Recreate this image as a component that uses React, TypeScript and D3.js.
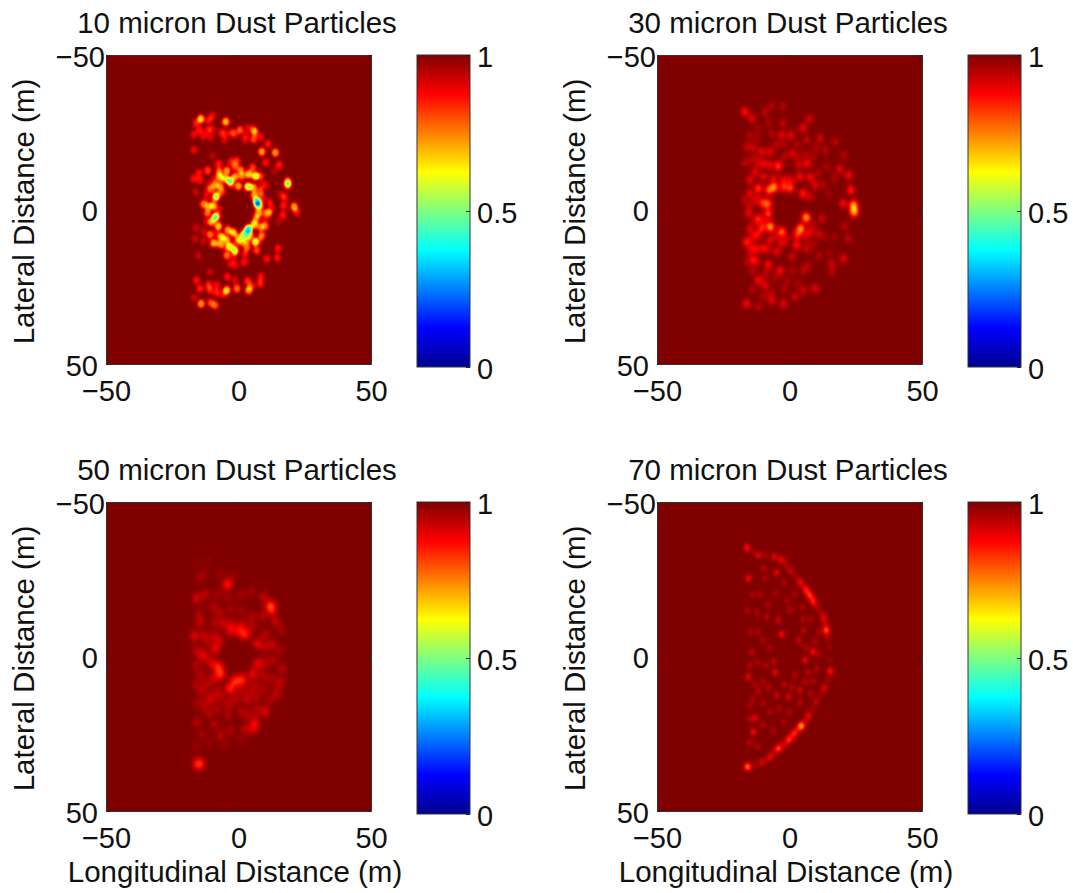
import { useEffect, useRef } from "react";
import * as d3 from "d3";

type Speckle = [number, number, number];

// Speckles: longitudinal (m), lateral (m), drop below 1
const speckles10: Speckle[] = [
  [-14.2,-29.3,.35],[-16,-27.9,.15],[-11.2,-28.9,.15],[-9.8,-30.3,.12],[-4.8,-28.4,.33],[-16.8,-24.3,.12],[-14.7,-25.7,.15],[-13.2,-23.8,.12],
  [-11.7,-25.7,.12],[-10.1,-25.9,.12],[-10.5,-23.3,.1],[-6.6,-24.9,.12],[-5,-24.5,.12],[-5.3,-22.5,.1],[-2.5,-24.9,.15],[-1.3,-24.3,.12],
  [.6,-25.7,.22],[3.8,-26.5,.1],[5.7,-25.7,.2],[6.3,-24.9,.18],[2.8,-24.2,.1],[2.5,-22.5,.1],[5.7,-22.7,.2],[8.4,-23.4,.12],[11.2,-21.2,.15],
  [-16.8,-19.3,.12],[8.8,-18.7,.3],[13.9,-18.4,.3],[-9.8,-17.4,.06],[10.3,-15.2,.14],[15.4,-14.4,.15],[13.6,-12.6,.06],
  [-2.8,-15.4,.15],[-.6,-15.7,.18],[-6.9,-14.7,.1],[-8.2,-14.7,.08],[-1.3,-13.8,.2],[-11.6,-12.6,.2],[-7.3,-12.2,.25],[-4.4,-12.5,.3],
  [.9,-12.7,.25],[5.4,-13.5,.2],[-14.9,-11.9,.14],[-16.8,-10,.14],[-14.5,-9.5,.14],[-6.9,-10.4,.3],[-3.2,-9.2,.45],[-5,-10,.3],[-1.3,-10.6,.3],
  [1.3,-10.8,.25],[3.8,-11.4,.35],[6.3,-10.8,.4],[8.2,-10.8,.2],[-16.1,-5.5,.08],[-8.8,-7.9,.25],[-10.3,-6.5,.2],[-6.9,-7.6,.25],[0,-7.6,.3],
  [3.6,-7.4,.45],[5.7,-7.1,.3],[8.2,-5.9,.2],[10.5,-7.7,.08],[18.6,-9,.3],[18.6,-7.9,.3],[-2.5,-8,.12],[-8.2,-4.6,.3],[-8.8,-3.6,.25],
  [-6.3,-5.8,.2],[8.8,-4.1,.15],[6.9,-2.5,.6],[7.4,-1,.3],[6,-4.6,.3],[-13.2,-1.7,.25],[-11.3,-1.1,.25],[-9.5,-1.1,.3],[8.4,-1.7,.2],
  [11.7,-2.3,.14],[-7.6,-.3,.1],[17.4,-3.9,.15],[16.1,-4.9,.08],[17,-1.2,.15],[21,-.9,.3],[22,.8,.14],[12.6,-.3,.1],[11.3,1.1,.3],[9.2,.8,.15],
  [7.4,1.3,.25],[-11.7,1.1,.25],[-8.8,2.5,.45],[-7.7,1.8,.15],[16.8,1.8,.15],[15.1,3.8,.06],[6.7,3,.25],[5.8,4.9,.35],[-10.1,4,.3],[-7.6,5.4,.35],
  [-4,6.7,.3],[-1.9,7.5,.35],[3.7,6.4,.65],[2.1,8,.45],[8.2,5.6,.25],[10.1,5.4,.25],[-16,5.9,.08],[-13.2,7.2,.08],[-16.4,9.4,.08],
  [-13.2,10.2,.08],[-10.7,8.1,.25],[-6.3,8.9,.35],[-4.4,9.8,.3],[0,9.2,.3],[3.2,9.8,.25],[6.3,10.5,.4],[4.4,8.3,.3],[8.8,8.3,.25],
  [-9.1,10.8,.25],[-6.9,11.2,.28],[-3.2,12.1,.4],[-1.3,13.4,.4],[1.3,10.5,.28],[3.2,12.1,.25],[6.9,13.2,.2],[14.9,12.6,.14],[14.7,15.6,.14],
  [10.7,16,.14],[-15.1,15,.08],[-4.4,14.8,.25],[-1.9,15.3,.1],[2.5,14.3,.15],[2.1,17,.14],[-3.2,17.5,.1],[-1.3,17.8,.12],
  [-10.7,20.2,.08],[-4.2,21.8,.14],[-1.3,22.9,.1],[8.4,21.8,.14],[8.2,24,.16],[-15.8,22.9,.14],[-11.3,24.3,.15],[-14.5,25.6,.16],[-8.2,24.5,.13],
  [-10.7,26.1,.16],[-8.2,26.9,.16],[-4.4,26.1,.35],[-5.7,27.4,.14],[-.6,25.6,.25],[3.4,23.2,.18],[3.8,26.1,.3],[5,24.8,.16],[-16.8,28.5,.08],
  [-14.1,30.5,.3],[-10.5,30.2,.2],[-8.8,31,.22],
  [-11,-8,.1],[-12,-4,.1],[-9,-10,.12],[-12,4,.1],[-8,8,.12],[-10,11,.1],[-1,11,.14],[9,-8,.1],[10,3,.12],[8,10,.12],[-5,12,.14],[-12,-6,.08],
];

const speckles30: Speckle[] = [
  [-7.8,-6.3,.2],[-5.8,-7.2,.25],[-2.3,-7.2,.15],[.3,-7,.18],[-8,-1.9,.18],[-8,1.3,.18],[-7.2,5.6,.28],[-2.9,7.2,.22],[4.2,6.2,.28],
  [6.3,2.6,.3],[2.8,8.3,.15],[5,-5.2,.15],[24.2,-1.4,.28],[24.4,.8,.3],[23.2,-6.3,.15],[22.3,-11.1,.12],[18.9,-13.1,.1],[20.2,-1.9,.12],
  [20.4,-17.6,.06],[17.3,-21.9,.06],[11.6,-23,.08],[13.5,-19.2,.06],[21,5.4,.06],[22.3,9.4,.07],[20.4,15.9,.1],[16,17.5,.08],[16,20.2,.06],
  [9.7,25.6,.1],[-16.8,-31.6,.14],[-14.2,-29.5,.1],[-9.2,-31.6,.06],[-6.7,-33.5,.05],[-2.5,-33.3,.05],[-2.5,-28.1,.07],[7.6,-29.5,.08],
  [4.7,-26.2,.08],[-6.7,-24.6,.05],[-2.9,-24.1,.1],[.6,-24.1,.1],[6.6,-22.5,.07],[-16.1,-20.3,.07],[-13.6,-20.1,.07],[-7.3,-18.7,.1],
  [-10.5,-18.7,.1],[.9,-18.1,.08],[-4.2,-14.1,.18],[-9.8,-14.9,.1],[-7.3,-14.4,.1],[6.6,-14.9,.12],[3.4,-14.4,.08],[-13,-12.2,.1],[-6,-10,.1],
  [-2.3,-9.6,.1],[.3,-9.6,.1],[-9.8,-10.6,.1],[4,-10.6,.12],[7.8,-10.4,.12],[-14.9,-9.5,.1],[-11.7,-6.8,.18],[-14.9,-5.2,.1],[9.7,-7.9,.1],
  [7.8,-4.1,.08],[-13,-3,.08],[-9.8,-1.9,.15],[-16.8,-3,.06],[-15.5,1.3,.1],[-11.7,2.9,.14],[-14.9,6.2,.1],[-10.5,6.2,.16],[-16.1,10.5,.15],
  [-12.3,8.3,.12],[-7.3,9.9,.1],[-2.9,11,.1],[2.8,11.6,.14],[-9.8,12.6,.1],[-12.3,12.6,.1],[-13.6,16.4,.13],[-7.9,18,.13],[-3.5,19.7,.12],
  [.9,15.3,.08],[6.6,12.6,.08],[11,7.8,.07],[12.2,2.9,.08],[7.8,7.2,.1],[-11.7,22.9,.12],[-9.2,24.5,.1],[-16.1,30.5,.12],[-6.7,29.4,.1],
  [-2.3,30.5,.1],[2.1,28.3,.08],[-11.7,31.5,.06],[5.3,26.1,.08],[-1,23.4,.05],[5.3,19.7,.06],[-4.8,13.7,.1],[-14.2,12.6,.08],
  [-15,-24,.05],[-12,-26,.04],[-8,-28,.05],[-5,-21,.06],[-2,-17,.06],[3,-21,.05],[9,-17,.05],[11,-12,.05],[14,-14,.05],[17,-10,.05],[15,-5,.04],
  [13,-8,.05],[-17,-15,.05],[-15,-16,.05],[-12,-15,.06],[-11,-3,.06],[-15,-1,.06],[-13,4,.06],[-9.5,4,.07],[-14,9,.06],[-8,13,.06],[-5,8.5,.07],[-1,9.5,.07],
  [6,9,.07],[9,5,.05],[9,11,.05],[13,9,.04],[17,9,.04],[15,14,.04],[11,15,.05],[7,18,.05],[1,20,.05],[-5,22,.05],[-9,21,.06],[-14,20,.06],[-16,17,.05],
  [-14,26,.05],[-7,27,.05],[-2,26,.05],[3,24,.04],[-12,17,.05],[-10,28,.05],[-13,-17,.04],[6,-18,.05],[3,-17,.05],[10,-20,.05],[-2,-21,.05],[6,-27,.04],
  [-12,-23,.04],[-15,14,.05],
];

const speckles50: Speckle[] = [
  [-4.2,-23.3,.14],[12,-16.4,.16],[12.6,-15,.1],[9.5,-19.3,.06],[13.9,-11.4,.07],[2.5,-7.2,.15],[0,-8.2,.1],[-3.2,-8.2,.08],[-5.7,-10.7,.07],
  [-2.5,-10.2,.07],[1.3,-10.2,.07],[-16.6,-6.7,.09],[-13.9,-.4,.08],[-8.8,-2.4,.1],[-7.4,-5.2,.08],[7.2,-4.2,.09],[12.6,-3.7,.07],[10.1,-7.1,.06],
  [7.2,2.3,.1],[-7.6,3.3,.14],[-6.8,5.7,.16],[-1.3,8,.15],[1.3,7.6,.15],[5.3,5.6,.1],[-3.2,10.4,.15],[-10.1,2.3,.08],[-9.5,7.1,.07],[-13.9,11.4,.06],
  [-10.5,13.6,.09],[-15.8,-18.8,.08],[-12.6,-20.1,.06],[-14.5,-11.2,.07],[-9.5,-16.1,.05],[16.4,3.9,.06],[14.5,12,.06],[10.1,17.9,.09],[6.3,21.2,.09],
  [5.7,23.3,.09],[2.5,23.5,.06],[-6.9,25.5,.06],[-11.3,18.5,.05],[-15.8,21.2,.05],[-14.5,34.7,.14],[-15.8,34.9,.08],[9.5,10.4,.05],[3.2,14.1,.06],
  [-3.8,15.2,.06],[-6.9,13.1,.05],[-13.2,-26.4,.03],[-11.3,-30.7,.02],[3.8,19,.05],[16.4,-8.5,.04],[4.4,11.4,.05],[-9.5,-6.9,.05],[-12,-4.8,.05],
  [-15,-14,.04],[-13,-7,.05],[-16,-2,.05],[-12,0,.05],[-16,3,.05],[-14,6,.05],[-16,9,.05],[-12,9,.05],[-8,11,.05],[-9,-11,.05],[-7,-14,.05],[-3,-15,.04],
  [1,-15,.04],[5,-13,.05],[9,-13,.05],[5,-9.5,.05],[9.5,-3,.05],[10,2,.05],[13,1,.05],[9,6,.05],[12,7,.05],[16,8,.04],[6,9,.05],[1,11,.05],[-1,14,.05],[7,13,.05],
  [12,14,.05],[7,17,.05],[1,18,.05],[-4,19,.05],[-8,17,.05],[-13,16,.05],[-16,15,.04],[-14,25,.04],[-9,22,.05],[-3,24,.05],[-11,28,.03],[-5,29,.03],[1,27,.03],
  [-16,29,.03],[-8,-20,.04],[-4,-19,.04],[1,-20,.04],[5,-21,.04],[-2,-26,.03],[-7,-27,.03],[-15,-25,.03],[-16,-30,.02],[16,-2,.04],[15,9,.04],
];

const speckles70: Speckle[] = [
  [-16.1,-35.2,.13],[-11.7,-32.8,.1],[-6,-32.3,.08],[-2.9,-31.2,.1],[.3,-28,.08],[4,-24.2,.1],[6.3,-21.5,.16],[7.6,-19.9,.16],[9.1,-17.7,.14],
  [12.9,-12.3,.1],[13.9,-8.5,.22],[8.8,-1.5,.12],[5.9,1.2,.1],[15.4,4.8,.14],[13.1,10.2,.1],[10.1,14.7,.07],[7.2,19,.11],[4.4,22.5,.3],[1.8,24.9,.14],
  [-.4,27.1,.16],[-4.2,29.8,.2],[-7.3,32.5,.1],[-10.5,34.3,.08],[-15.8,35.7,.25],[-13.6,24.4,.12],[-13,19.9,.1],[-15.5,6.6,.1],[-15.5,-25.3,.12],
  [-4.8,-27.1,.1],[-9.8,-28.5,.06],[-9.2,-25.3,.05],[-2.9,-7.2,.12],[3.4,-5.3,.08],[-5.4,5.2,.1],[-6,1.7,.06],[-7.3,-2.6,.05],[-14.2,-1.5,.07],
  [-4.2,-11.8,.08],[-8.6,-12.9,.06],[5.3,-8.5,.06],[.3,-15,.06],[-5.4,-20.4,.05],[-12.3,-14.5,.05],[-14.9,-8,.05],[-11.7,11.4,.06],[-4.8,12.5,.08],
  [-.4,13.1,.09],[4,10.9,.08],[5.9,8.2,.06],[2.1,6,.06],[-13.6,13.6,.05],[-7.3,17.9,.05],[-2.3,21.2,.05],[-14.9,20.1,.05],[10.3,3.9,.05],[9.7,-4.8,.05],
  [-14,-34,.03],[-9,-32.8,.04],[-4.5,-32,.04],[-1.3,-30,.04],[2.2,-26,.04],[5,-23,.05],[8.4,-18.8,.06],[10.5,-16,.05],[12,-14,.05],[13.5,-10.5,.05],[14.3,-6,.05],
  [15,-3,.03],[15.3,1,.03],[14.5,7.5,.04],[11.7,12.5,.04],[8.8,17,.04],[6,20.8,.06],[3,23.7,.08],[.7,26,.08],[-2.3,28.5,.07],[-6,31.2,.05],[-9,33.5,.04],[-13,35.2,.04],
  [-14,-20,.05],[-16,-15,.05],[-11,-20,.05],[-8,-17,.05],[-2,-24,.05],[2,-20,.05],[-1,-18,.05],[5,-16,.05],[8,-12,.05],[5,-12,.05],[-12,-8,.05],[-10,-5,.05],
  [-15,3,.06],[-12,2,.05],[-9,3,.05],[-10,8,.05],[-13,9,.05],[-8,10,.06],[-2,9,.06],[1,10,.06],[7,5,.06],[9,8,.05],[8,12,.05],[4,15,.06],[0,18,.05],[-4,17,.05],
  [-10,15,.05],[-15,16,.05],[-10,22,.05],[-6,24,.05],[-15,28,.06],[-12,29,.05],[6,-3,.05],[11,-8,.05],[11,-1,.05],
];

const panelTitles = ["10 micron Dust Particles", "30 micron Dust Particles", "50 micron Dust Particles", "70 micron Dust Particles"];
const panelSpeckles = [speckles10, speckles30, speckles50, speckles70];
const speckleRadius = [1.4, 1.6, 1.9, 1.3]; // size of one speckle, in m
const speckleEdge = [3, 2, 2, 2]; // higher gives a flatter-topped blob
const axisTicks = [-50, 0, 50];
const colorTicks = [0, 0.5, 1];
const jetStops = [0, 0.125, 0.375, 0.625, 0.875, 1];
const jetColors = ["#00008f", "#0000ff", "#00ffff", "#ffff00", "#ff0000", "#800000"];

const font = "'Liberation Sans', Arial, sans-serif";

export default function App() {
  const svgRef = useRef<SVGSVGElement>(null);

  useEffect(() => {
    const svg = d3.select(svgRef.current);
    svg.selectAll("*").remove();

    const jet = d3.scaleLinear<string>().domain(jetStops).range(jetColors).clamp(true);
    const plotW = 265;
    const plotH = 309;
    const cbW = 53;
    const cbH = 312;
    const lefts = [106, 657];
    const tops = [55, 502];

    const grad = svg
      .append("defs")
      .append("linearGradient")
      .attr("id", "jetBar")
      .attr("x1", 0)
      .attr("y1", 1)
      .attr("x2", 0)
      .attr("y2", 0);
    grad
      .selectAll("stop")
      .data(jetStops)
      .enter()
      .append("stop")
      .attr("offset", (d) => d)
      .attr("stop-color", (d) => jet(d));

    const styleAxis = (g: any, labels: boolean) => {
      g.select(".domain").attr("stroke", "#333").attr("stroke-width", 1);
      g.selectAll(".tick line").attr("stroke", "#222").attr("stroke-width", 1);
      g.selectAll("text").attr("fill", "#111").style("font-family", font).style("font-size", "29px");
      if (!labels) g.selectAll("text").remove();
    };

    panelTitles.forEach((title, i) => {
      const left = lefts[i % 2];
      const top = tops[Math.floor(i / 2)];
      const g = svg.append("g").attr("transform", `translate(${left},${top})`);

      const x = d3.scaleLinear().domain([-50, 50]).range([0, plotW]);
      const y = d3.scaleLinear().domain([-50, 50]).range([0, plotH]);

      g.append("rect").attr("width", plotW).attr("height", plotH).attr("fill", jet(1));

      // Drop in transmission on a 0.5 m grid, summed from the speckles
      const step = 0.5;
      const nx = 120;
      const ny = 170;
      const x0 = -30;
      const y0 = -42;
      const radius = speckleRadius[i];
      const edge = speckleEdge[i];
      const reach = radius * 3;
      const field = new Float64Array(nx * ny);
      panelSpeckles[i].forEach(([sx, sy, drop]) => {
        for (let r = 0; r < ny; r++) {
          const py = y0 + r * step - sy;
          if (Math.abs(py) > reach) continue;
          for (let c = 0; c < nx; c++) {
            const px = x0 + c * step - sx;
            if (Math.abs(px) > reach) continue;
            field[r * nx + c] += drop * Math.exp(-Math.pow(Math.hypot(px, py) / radius, edge));
          }
        }
      });

      const bands = d3.contours().size([nx, ny]).thresholds(d3.range(0.008, 1, 0.012))(Array.from(field));
      const project = d3.geoTransform({
        point(px: number, py: number) {
          (this as any).stream.point(x(x0 + (px - 0.5) * step), y(y0 + (py - 0.5) * step));
        },
      });
      const path = d3.geoPath(project);
      g.selectAll(".band")
        .data(bands)
        .enter()
        .append("path")
        .attr("class", "band")
        .attr("d", (d: any) => path(d))
        .attr("fill", (d: any) => jet(1 - d.value));

      // Axes on all four sides, ticks pointing in
      const tick = 3;
      g.append("g")
        .attr("transform", `translate(0,${plotH})`)
        .call(d3.axisBottom(x).tickValues(axisTicks).tickSizeInner(-tick).tickSizeOuter(0).tickPadding(16))
        .call(styleAxis, true);
      g.append("g")
        .call(d3.axisLeft(y).tickValues(axisTicks).tickSizeInner(-tick).tickSizeOuter(0).tickPadding(8))
        .call(styleAxis, true)
        .call((a: any) =>
          // the top label sits further right than the others, over the corner
          a.selectAll("text").attr("dx", (d: number) => (d < 0 ? 7 : 0)).attr("dy", "0.39em")
        );
      g.append("g")
        .call(d3.axisTop(x).tickValues(axisTicks).tickSizeInner(-tick).tickSizeOuter(0))
        .call(styleAxis, false);
      g.append("g")
        .attr("transform", `translate(${plotW},0)`)
        .call(d3.axisRight(y).tickValues(axisTicks).tickSizeInner(-tick).tickSizeOuter(0))
        .call(styleAxis, false);

      const label = (sel: any) =>
        sel.attr("fill", "#111").attr("text-anchor", "middle").style("font-family", font).style("font-size", "29.5px");

      g.append("text")
        .attr("x", plotW / 2 - 1.5)
        .attr("y", -22)
        .call(label)
        .text(title);

      g.append("text")
        .attr("transform", `translate(-72,${plotH / 2 + 2}) rotate(-90)`)
        .call(label)
        .text("Lateral Distance (m)");

      if (i >= 2) {
        g.append("text")
          .attr("x", plotW / 2 - 3.5)
          .attr("y", plotH + 71)
          .call(label)
          .text("Longitudinal Distance (m)");
      }

      // Colour bar
      const cb = g.append("g").attr("transform", `translate(${plotW + 46},0)`);
      const cbY = d3.scaleLinear().domain([0, 1]).range([cbH, 0]);
      cb.append("rect")
        .attr("width", cbW)
        .attr("height", cbH)
        .attr("fill", "url(#jetBar)")
        .attr("stroke", "#333");
      cb.append("g")
        .attr("transform", `translate(${cbW},0)`)
        .call(d3.axisRight(cbY).tickValues(colorTicks).tickSizeInner(-4).tickSizeOuter(0).tickPadding(7).tickFormat(d3.format("")))
        .call(styleAxis, true)
        .call((a: any) => {
          a.select(".domain").remove();
          a.selectAll("text").attr("dy", "0.39em");
        });
    });
  }, []);

  return (
    <svg
      ref={svgRef}
      width={1073}
      height={893}
      style={{ position: "absolute", left: 0, top: 0, background: "#fff" }}
    />
  );
}
